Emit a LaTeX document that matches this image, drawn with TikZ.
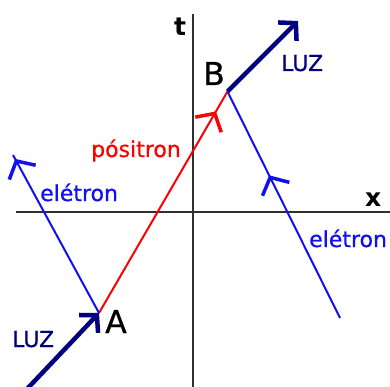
\documentclass[tikz,border=0pt]{standalone}
\usepackage{fontspec}
\setmainfont{DejaVu Sans}
\usetikzlibrary{arrows.meta,decorations.markings}
\definecolor{navyc}{HTML}{000080}
\definecolor{bluec}{HTML}{1010F0}
\definecolor{redc}{HTML}{FF0000}
\definecolor{axisc}{HTML}{303030}
\begin{document}
\begin{tikzpicture}[x=1pt,y=-1pt,
  lbl/.style={inner sep=0pt, anchor=base west, font=\fontsize{22}{24}\selectfont\addfontfeature{FakeBold=0.6}},
  ptlbl/.style={inner sep=0pt, anchor=base west, font=\fontsize{31.5}{34}\selectfont\addfontfeature{FakeBold=0.8}, text=black},
  axlbl/.style={inner sep=0pt, anchor=base west, font=\bfseries\fontsize{25}{27}\selectfont, text=black},
  axisline/.style={draw=axisc, line width=2pt},
  photon/.style={draw=navyc, line width=4.5pt, -{Straight Barb[length=12pt,width=26pt]}},
  particle/.style={line width=2pt},
  midarrow/.style={postaction={decorate}, decoration={markings,
      mark=at position #1 with {\arrow{Straight Barb[length=13pt,width=30pt,line width=3.5pt]}}}}
]
\useasboundingbox (0,0) rectangle (390,387);
% axes
\coordinate (xl) at (16,212);
\coordinate (xr) at (390,212);
\coordinate (tt) at (193,14);
\coordinate (tb) at (193,387);
\draw[axisline] (xl) -- (xr);
\draw[axisline] (tt) -- (tb);
\node[axlbl] (tlab) at (174,36) {t};
\node[axlbl] (xlab) at (365,206) {x};
% events
\coordinate (A) at (99,313);
\coordinate (B) at (227.5,91.5);
\coordinate (phin) at (27,389);
\coordinate (phout) at (298,21);
\coordinate (eL) at (13,155);
\coordinate (eR) at (340,318);
% lines
\draw[particle, redc, midarrow=0.91] (A) -- (B);
\draw[particle, bluec, midarrow=0.975] (A) -- (eL);
\draw[particle, bluec, midarrow=0.63] (eR) -- (B);
\draw[photon] (phin) -- (A);
\draw[photon] (B) -- (phout);
% labels
\node[ptlbl] (lA) at (105,333) {A};
\node[ptlbl] (lB) at (203,85) {B};
\node[lbl, text=navyc] (luz1) at (12,347) {LUZ};
\node[lbl, text=navyc] (luz2) at (281,71) {LUZ};
\node[lbl, text=bluec] (el1) at (40,201) {elétron};
\node[lbl, text=bluec] (el2) at (309,247) {elétron};
\node[lbl, text=redc] (pos) at (91,157) {pósitron};
\end{tikzpicture}
\end{document}
